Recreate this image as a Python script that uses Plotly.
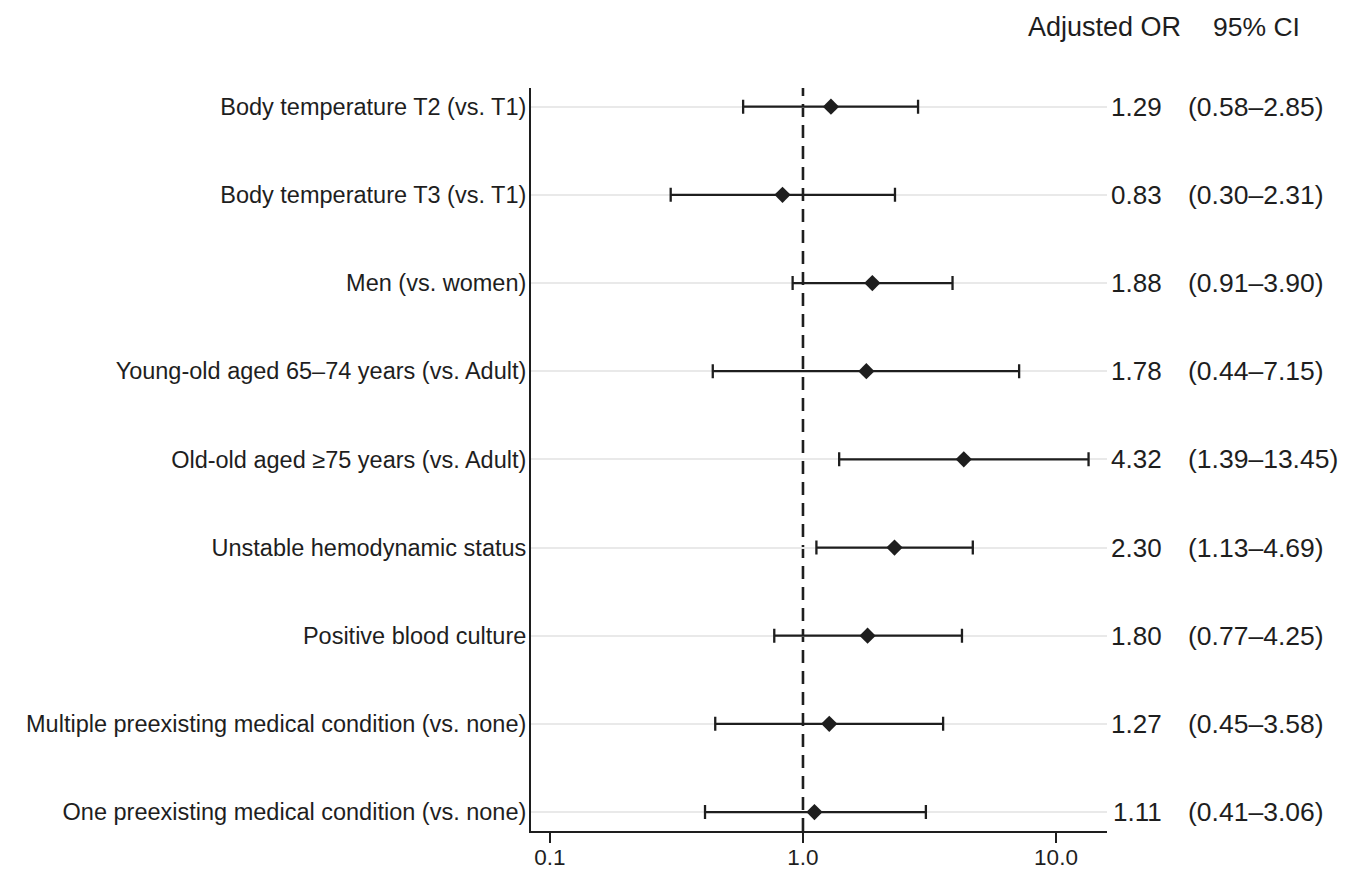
import plotly.graph_objects as go

labels = [
    "Body temperature T2 (vs. T1)",
    "Body temperature T3 (vs. T1)",
    "Men (vs. women)",
    "Young-old aged 65–74 years (vs. Adult)",
    "Old-old aged ≥75 years (vs. Adult)",
    "Unstable hemodynamic status",
    "Positive blood culture",
    "Multiple preexisting medical condition (vs. none)",
    "One preexisting medical condition (vs. none)",
]
odds = [1.29, 0.83, 1.88, 1.78, 4.32, 2.30, 1.80, 1.27, 1.11]
ci_low = [0.58, 0.30, 0.91, 0.44, 1.39, 1.13, 0.77, 0.45, 0.41]
ci_high = [2.85, 2.31, 3.90, 7.15, 13.45, 4.69, 4.25, 3.58, 3.06]
x_ticks = [0.1, 1.0, 10.0]
x_ticktext = ["0.1", "1.0", "10.0"]

n = len(labels)
ypos = [n - 1 - i for i in range(n)]

FONT = "Liberation Sans, Arial, Helvetica, sans-serif"
DARK = "#1e1e1e"

# page body has an 8px margin; compensate so the plot area lands at x 531-1107, y 88-831
OFF = 8
W, H = 1346 - OFF, 870 - OFF
L, R, T, B = 531 - OFF, 239, 88 - OFF, 39
plot_w = W - L - R
plot_h = H - T - B

fig = go.Figure()
fig.add_trace(go.Scatter(
    x=odds, y=ypos, mode="markers",
    marker=dict(symbol="diamond", size=12.5, color=DARK, line=dict(width=0)),
    error_x=dict(type="data", symmetric=False,
                 array=[h - o for h, o in zip(ci_high, odds)],
                 arrayminus=[o - l for o, l in zip(odds, ci_low)],
                 color=DARK, thickness=2.3, width=7),
    showlegend=False, hoverinfo="skip",
))

fig.add_shape(type="line", xref="x", yref="paper", x0=1, x1=1, y0=0, y1=1,
              line=dict(color=DARK, width=2.6, dash="13px,8px"), layer="below")


def px_to_paper(px):
    return (px - OFF - L) / plot_w


for y, o, lo, hi in zip(ypos, odds, ci_low, ci_high):
    fig.add_annotation(x=px_to_paper(1164), xref="paper", y=y, yref="y",
                       text=f"{o:.2f}", showarrow=False, xanchor="right",
                       font=dict(size=26, color=DARK, family=FONT))
    fig.add_annotation(x=px_to_paper(1186), xref="paper", y=y, yref="y",
                       text=f"({lo:.2f}–{hi:.2f})", showarrow=False, xanchor="left",
                       font=dict(size=26.5, color=DARK, family=FONT))

hdr_y = 1 + (88 - 27) / plot_h
fig.add_annotation(x=px_to_paper(1026), xref="paper", y=hdr_y, yref="paper",
                   text="Adjusted OR", showarrow=False, xanchor="left", yanchor="middle",
                   font=dict(size=27, color=DARK, family=FONT))
fig.add_annotation(x=px_to_paper(1211), xref="paper", y=hdr_y, yref="paper",
                   text="95% CI", showarrow=False, xanchor="left", yanchor="middle",
                   font=dict(size=26.5, color=DARK, family=FONT))

fig.update_layout(
    width=W, height=H,
    margin=dict(l=L, r=R, t=T, b=B, autoexpand=False),
    paper_bgcolor="white", plot_bgcolor="white",
    font=dict(family=FONT, color=DARK),
    xaxis=dict(type="log", range=[-1.075, 1.2016], automargin=False,
               tickvals=x_ticks, ticktext=x_ticktext,
               ticks="outside", ticklen=10, tickwidth=2, tickcolor=DARK,
               showline=True, linecolor=DARK, linewidth=2,
               showgrid=False, zeroline=False, ticklabelstandoff=-5,
               tickfont=dict(size=22.5, color=DARK, family=FONT)),
    yaxis=dict(range=[-0.215, n - 1 + 0.212], automargin=False,
               tickvals=ypos, ticktext=labels,
               ticks="", showline=True, linecolor=DARK, linewidth=2,
               showgrid=True, gridcolor="#e9e9e9", gridwidth=2,
               zeroline=False, ticklabelstandoff=-2,
               tickfont=dict(size=23.5, color=DARK, family=FONT)),
)

fig.write_html("out.html")
